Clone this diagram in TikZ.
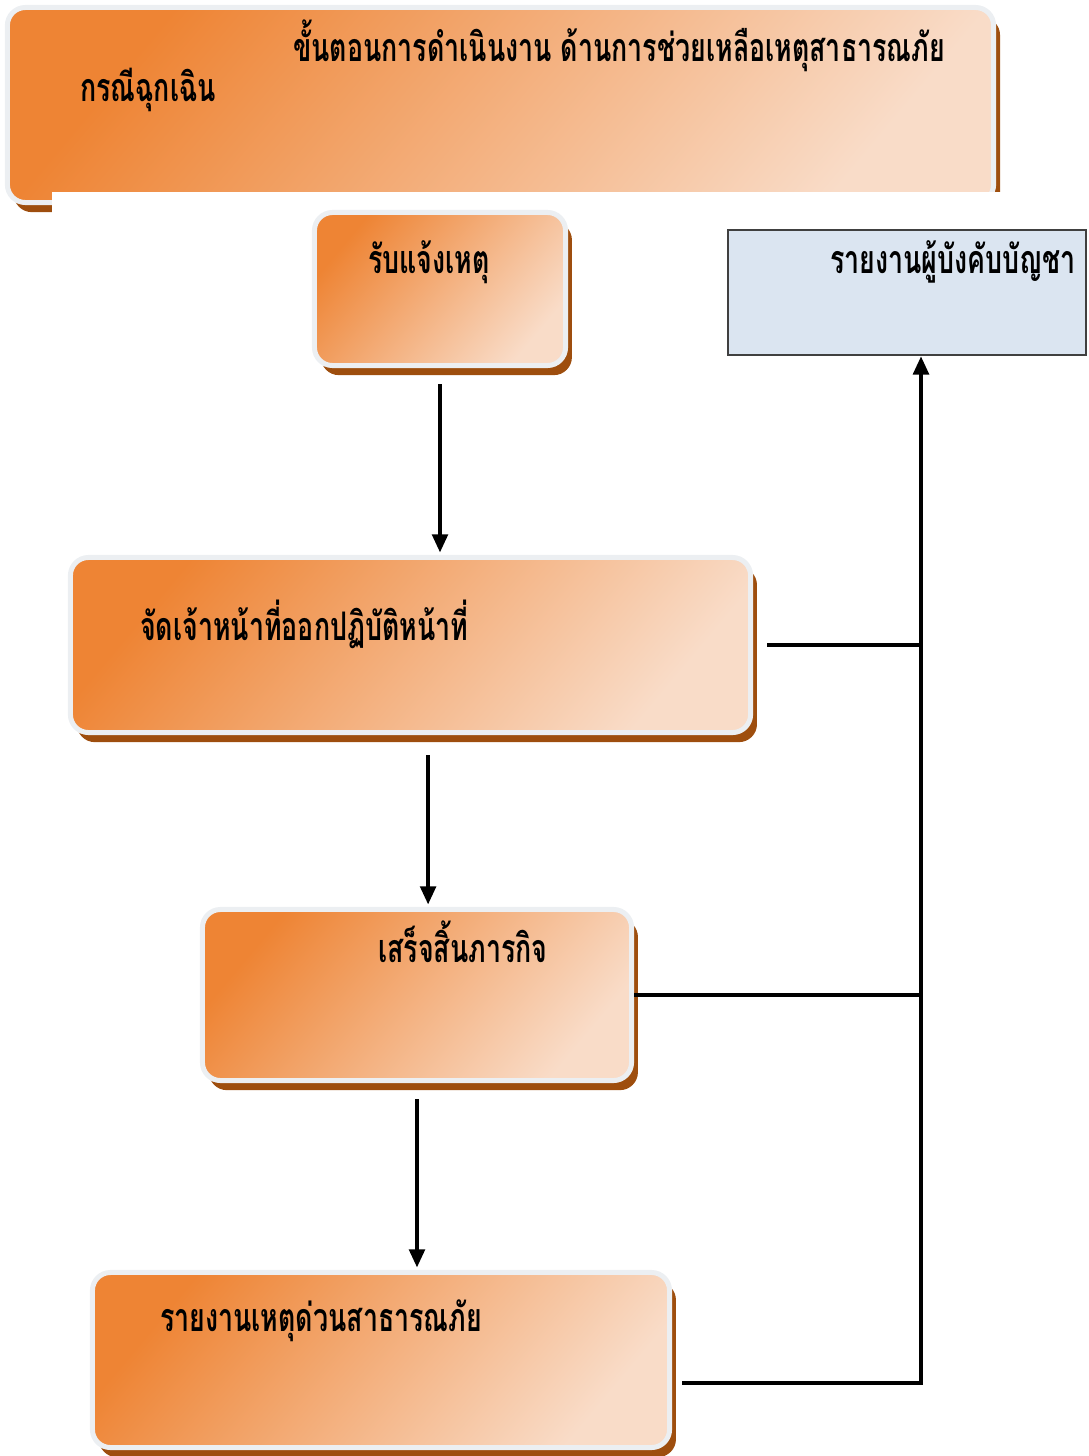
\documentclass[tikz,border=0pt]{standalone}
\usepackage{fontspec}
\newfontfamily\thaifont[Script=Thai,FakeStretch=0.68]{Loma}
\usetikzlibrary{arrows.meta}
\usetikzlibrary{shadows}
\definecolor{orangedark}{RGB}{238,132,52}
\definecolor{orangemid}{RGB}{243,174,128}
\definecolor{orangelight}{RGB}{249,220,200}
\definecolor{shadowbrown}{RGB}{158,78,14}
\definecolor{rimgray}{RGB}{236,239,242}
\definecolor{bluefill}{RGB}{219,229,241}
\tikzset{
  stepbox/.style={draw=rimgray, line width=0.125cm, rounded corners=0.45cm,
    left color=orangedark, middle color=orangemid, right color=orangelight, shading angle=50,
    drop shadow={shadow xshift=0.16cm, shadow yshift=-0.24cm, fill=shadowbrown, opacity=1},
    inner sep=0pt},
  notebox/.style={draw=black!75, line width=0.06cm, fill=bluefill, inner sep=0pt},
  boxtext/.style={anchor=west, inner sep=0pt, font=\thaifont\bfseries\fontsize{28}{32}\selectfont},
  flow/.style={line width=0.1cm, -{Triangle[length=13pt,width=11pt]}},
  link/.style={line width=0.1cm}
}

\begin{document}
\begin{tikzpicture}[x=0.025cm, y=-0.025cm]
  \useasboundingbox (0,0) rectangle (1089,1456);
    % title banner
    \node[stepbox, minimum width=24.65cm, minimum height=4.875cm] (title) at (500.5,105) {};
    \fill[white] (52,192) rectangle (1010,214);
    \node[boxtext] (titletext) at (293,46) {ขั้นตอนการดำเนินงาน ด้านการช่วยเหลือเหตุสาธารณภัย};
    \node[boxtext] (casetext) at (80,90) {กรณีฉุกเฉิน};
    % steps
    \node[stepbox, minimum width=6.275cm, minimum height=3.825cm] (notify) at (440,289) {};
    \node[boxtext] (notifytext) at (368,262) {รับแจ้งเหตุ};
    \node[notebox, minimum width=8.95cm, minimum height=3.125cm] (commander) at (907,292.5) {};
    \node[boxtext] (commandertext) at (830,262) {รายงานผู้บังคับบัญชา};
    \node[stepbox, minimum width=17cm, minimum height=4.375cm] (dispatch) at (410.5,645) {};
    \node[boxtext] (dispatchtext) at (140,624) {จัดเจ้าหน้าที่ออกปฏิบัติหน้าที่};
    \node[stepbox, minimum width=10.725cm, minimum height=4.275cm] (finish) at (417,995) {};
    \node[boxtext] (finishtext) at (378,942) {เสร็จสิ้นภารกิจ};
    \node[stepbox, minimum width=14.425cm, minimum height=4.375cm] (report) at (381,1360) {};
    \node[boxtext] (reporttext) at (160,1321) {รายงานเหตุด่วนสาธารณภัย};
    % arrows down
    \draw[flow, shorten <=0.4cm, shorten >=0.06cm] (notify.south) -- (notify.south |- dispatch.north);
    \draw[flow, shorten <=0.5cm, shorten >=0.06cm] ([xshift=0.44cm]dispatch.south) -- ([xshift=0.44cm]dispatch.south |- finish.north);
    \draw[flow, shorten <=0.4cm, shorten >=0.06cm] (finish.south) -- (finish.south |- report.north);
    % report line on the right
    \coordinate (trunk) at ([xshift=0.35cm]commander.south);
    \draw[flow] ([xshift=0.25cm,yshift=-0.58cm]report.east) -| (trunk);
    \draw[link] ([xshift=0.35cm]dispatch.east) -- (dispatch.east -| trunk);
    \draw[link] (finish.east) -- (finish.east -| trunk);
\end{tikzpicture}
\end{document}
